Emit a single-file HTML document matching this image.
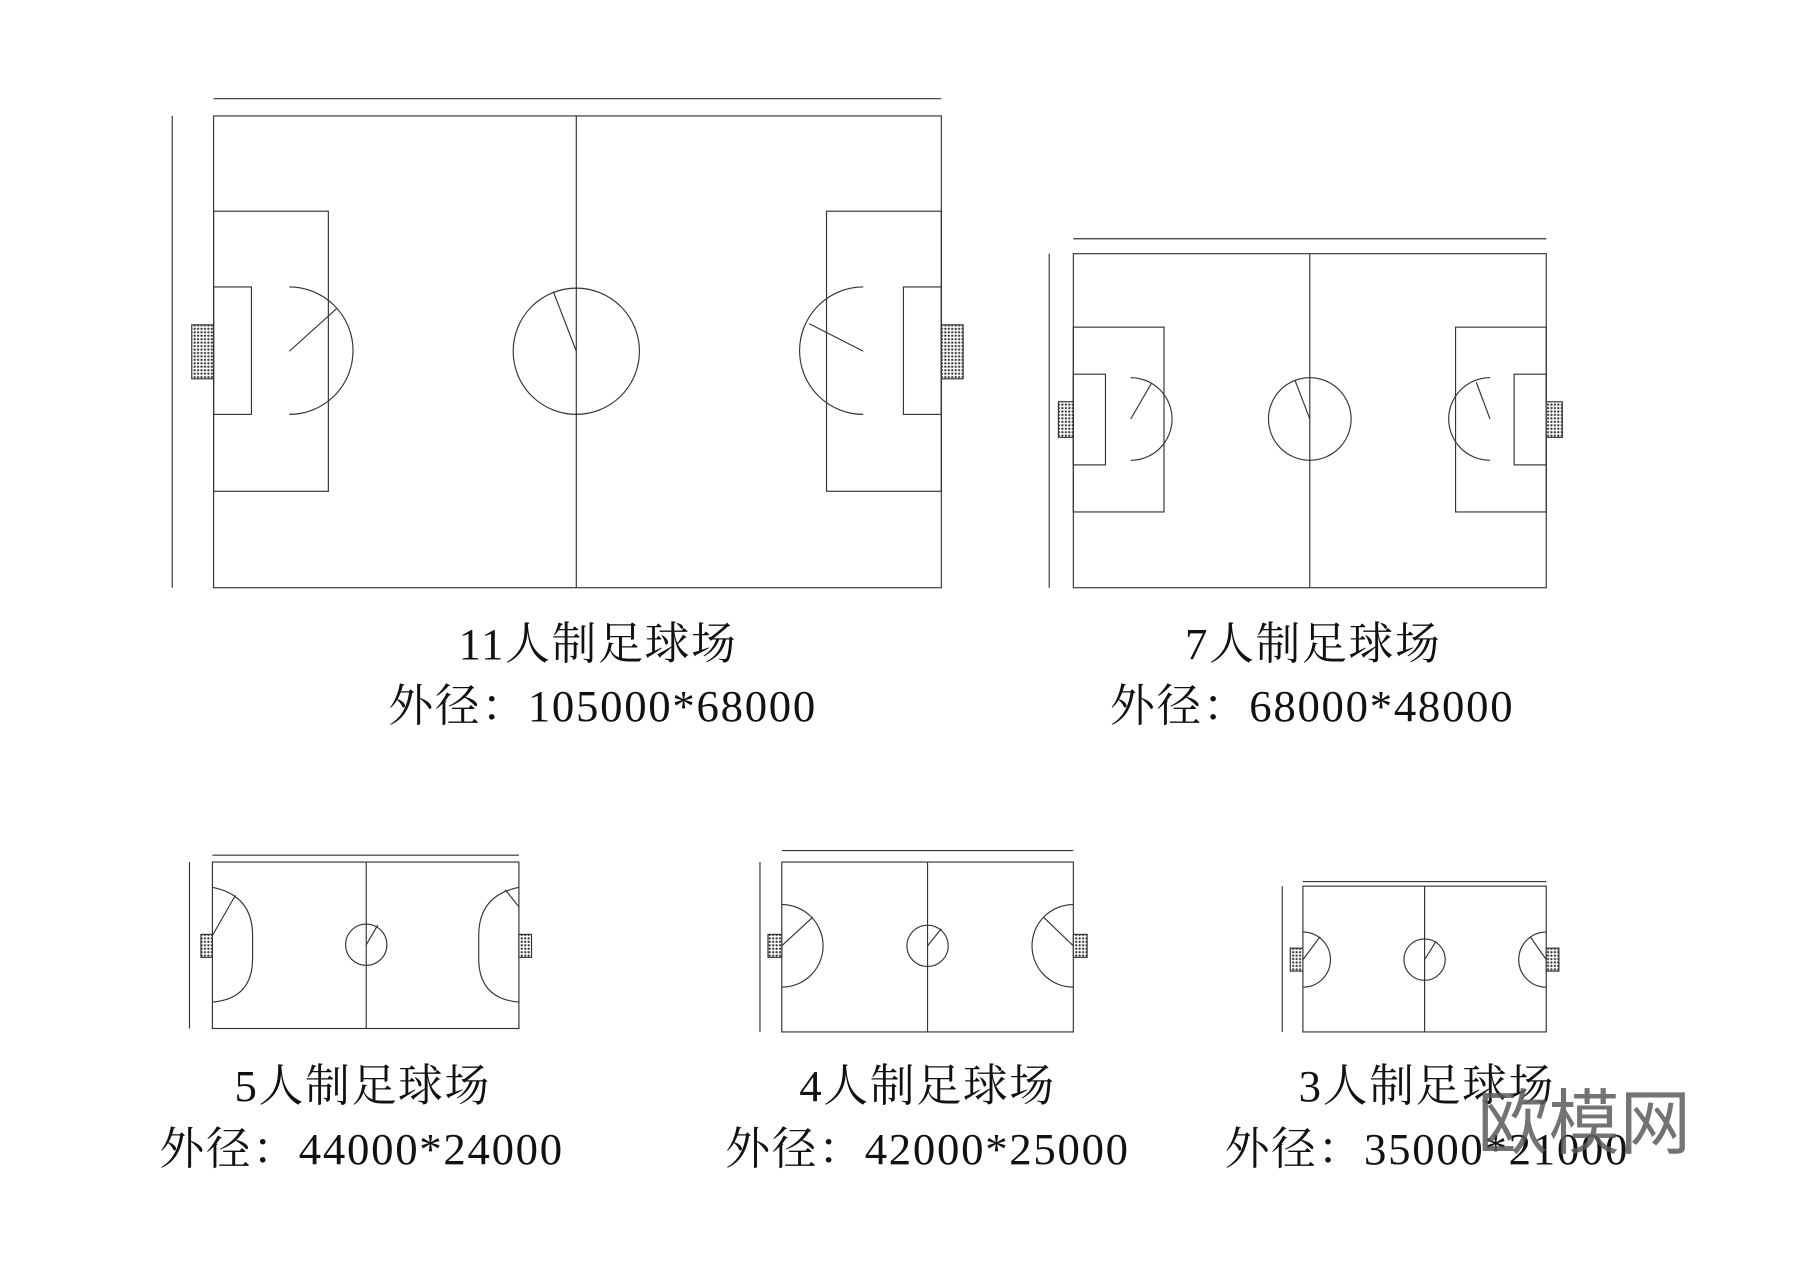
<!DOCTYPE html>
<html><head><meta charset="utf-8"><style>
html,body{margin:0;padding:0;background:#fff;}
svg{display:block;}
text{font-family:"Liberation Serif","Noto Serif CJK SC",serif;fill:#111;}
</style></head><body>
<svg width="1800" height="1273" viewBox="0 0 1568 1109" xmlns="http://www.w3.org/2000/svg">
<defs>
<pattern id="net" width="3" height="3" patternUnits="userSpaceOnUse"><rect width="3" height="3" fill="#fff"/><circle cx="1.5" cy="1.5" r="1" fill="#333"/></pattern>
</defs>
<g fill="none" stroke="#333" stroke-width="1">
<!-- 11-man -->
<line x1="186" y1="86" x2="820" y2="86"/><line x1="150" y1="101" x2="150" y2="512"/>
<rect x="186" y="101" width="634" height="411"/>
<line x1="502" y1="101" x2="502" y2="512"/>
<circle cx="502" cy="306" r="55"/><line x1="502" y1="306" x2="482" y2="254"/>
<rect x="186" y="184" width="100" height="244"/><rect x="186" y="250" width="33" height="111"/>
<path d="M252,250 A55.5,55.5 0 0 1 252,361"/><line x1="252" y1="306" x2="293" y2="269"/>
<rect x="720" y="184" width="100" height="244"/><rect x="787" y="250" width="33" height="111"/>
<path d="M752,250 A55.5,55.5 0 0 0 752,361"/><line x1="752" y1="306" x2="705" y2="282"/>
<rect x="167" y="283" width="19" height="47" fill="url(#net)"/>
<rect x="820" y="283" width="19" height="47" fill="url(#net)"/>
<!-- 7-man -->
<line x1="935" y1="208" x2="1347" y2="208"/><line x1="914" y1="221" x2="914" y2="512"/>
<rect x="935" y="221" width="412" height="291"/>
<line x1="1141" y1="221" x2="1141" y2="512"/>
<circle cx="1141" cy="365" r="36"/><line x1="1141" y1="365" x2="1128" y2="331"/>
<rect x="935" y="285" width="79" height="161"/><rect x="935" y="326" width="28" height="79"/>
<path d="M985,329 A36,36 0 0 1 985,401"/><line x1="985" y1="365" x2="1003" y2="334"/>
<rect x="1268" y="285" width="79" height="161"/><rect x="1319" y="326" width="28" height="79"/>
<path d="M1298,329 A36,36 0 0 0 1298,401"/><line x1="1298" y1="365" x2="1286" y2="333"/>
<rect x="922" y="350" width="13" height="31" fill="url(#net)"/>
<rect x="1347" y="350" width="14" height="31" fill="url(#net)"/>
<!-- 5-man -->
<line x1="185" y1="745" x2="452" y2="745"/><line x1="165" y1="751" x2="165" y2="896"/>
<rect x="185" y="751" width="267" height="145"/>
<line x1="319" y1="751" x2="319" y2="896"/>
<circle cx="319" cy="823" r="18"/><line x1="319" y1="823" x2="329" y2="806"/>
<path d="M185,773 Q220,780 220,815 L220,835 Q220,870 185,873"/><line x1="185" y1="815" x2="205" y2="780"/>
<path d="M452,773 Q417,780 417,815 L417,835 Q417,870 452,873"/><line x1="452" y1="790" x2="440" y2="775"/>
<rect x="175" y="814" width="10" height="20" fill="url(#net)"/>
<rect x="452" y="814" width="11" height="20" fill="url(#net)"/>
<!-- 4-man -->
<line x1="681" y1="741" x2="935" y2="741"/><line x1="662" y1="751" x2="662" y2="899"/>
<rect x="681" y="751" width="254" height="148"/>
<line x1="808" y1="751" x2="808" y2="899"/>
<circle cx="808" cy="824" r="18"/><line x1="808" y1="824" x2="820" y2="809"/>
<path d="M681,788 A36,36 0 0 1 681,860"/><line x1="681" y1="824" x2="708" y2="799"/>
<path d="M935,788 A36,36 0 0 0 935,860"/><line x1="935" y1="824" x2="909" y2="799"/>
<rect x="669" y="814" width="12" height="20" fill="url(#net)"/>
<rect x="935" y="814" width="12" height="20" fill="url(#net)"/>
<!-- 3-man -->
<line x1="1135" y1="768" x2="1347" y2="768"/><line x1="1117" y1="772" x2="1117" y2="899"/>
<rect x="1135" y="772" width="212" height="127"/>
<line x1="1241" y1="772" x2="1241" y2="899"/>
<circle cx="1241" cy="836" r="18"/><line x1="1241" y1="836" x2="1251" y2="820"/>
<path d="M1135,812 A24,24 0 0 1 1135,860"/><line x1="1135" y1="836" x2="1150" y2="816"/>
<path d="M1347,812 A24,24 0 0 0 1347,860"/><line x1="1347" y1="836" x2="1333" y2="816"/>
<rect x="1124" y="826" width="11" height="20" fill="url(#net)"/>
<rect x="1347" y="826" width="11" height="20" fill="url(#net)"/>
</g>
<g font-size="39" text-anchor="middle" letter-spacing="1.5">
<text x="521" y="574">11人制足球场</text>
<text x="525" y="628">外径：105000*68000</text>
<text x="1144" y="574">7人制足球场</text>
<text x="1143" y="628">外径：68000*48000</text>
<text x="316" y="959">5人制足球场</text>
<text x="315" y="1014">外径：44000*24000</text>
<text x="808" y="959">4人制足球场</text>
<text x="808" y="1014">外径：42000*25000</text>
<text x="1243" y="959">3人制足球场</text>
<text x="1243" y="1014">外径：35000*21000</text>
</g>
<text x="1380" y="1000" font-size="62" text-anchor="middle" style="font-family:'Noto Sans CJK SC',sans-serif;fill:rgba(90,90,90,0.85)">欧模网</text>
</svg>
</body></html>
